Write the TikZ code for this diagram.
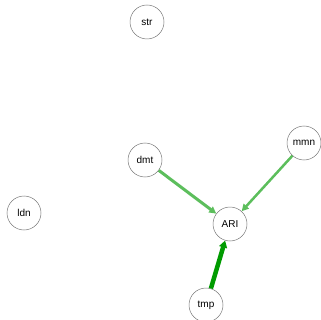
\documentclass[tikz,border=0pt]{standalone}
\usepackage{fontspec}
\setmainfont{Liberation Sans}
\usetikzlibrary{arrows.meta}
\definecolor{lightedge}{RGB}{92,190,92}
\definecolor{darkedge}{RGB}{0,155,0}
\definecolor{ringgray}{RGB}{120,120,120}
\begin{document}
\begin{tikzpicture}[x=1pt,y=-1pt,
  vertex/.style={circle,draw=ringgray,line width=0.5pt,fill=white,minimum size=34pt,inner sep=0pt,font=\fontsize{10}{12}\selectfont},
  link/.style={line width=3pt,color=lightedge,-{Triangle[length=7pt,width=7pt]}},
  stronglink/.style={line width=4.5pt,color=darkedge,-{Triangle[length=7pt,width=8pt]}}]
  \path[use as bounding box] (0,0) rectangle (320,320);
  \node[vertex] (str) at (147,22) {str};
  \node[vertex] (dmt) at (145,160) {dmt};
  \node[vertex] (mmn) at (304,143) {mmn};
  \node[vertex] (ARI) at (230,224) {ARI};
  \node[vertex] (tmp) at (206,305) {tmp};
  \node[vertex] (ldn) at (24,213) {ldn};
  \draw[link] (dmt) -- (ARI);
  \draw[link,line width=2.5pt] (mmn) -- (ARI);
  \draw[stronglink] (tmp) -- (ARI);
\end{tikzpicture}
\end{document}
